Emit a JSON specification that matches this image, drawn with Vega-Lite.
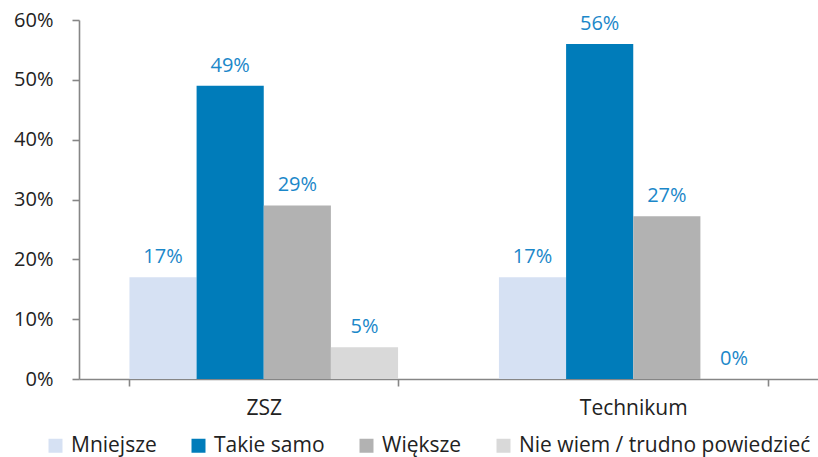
{
  "$schema": "https://vega.github.io/schema/vega-lite/v6.json",
  "autosize": {"type": "none"},
  "padding": {"left": 79, "top": 20, "right": 0, "bottom": 78},
  "width": 739,
  "height": 359,
  "config": {
    "view": {"stroke": null},
    "font": "Open Sans",
    "axis": {"labelFont": "Open Sans", "labelColor": "#222222", "domainColor": "#868686", "tickColor": "#868686", "domainWidth": 1.6, "tickWidth": 1.6, "grid": false, "title": null}
  },
  "data": {
    "values": [
      {"grupa": "ZSZ", "odp": "Mniejsze", "ord": 1, "val": 0.17},
      {"grupa": "ZSZ", "odp": "Takie samo", "ord": 2, "val": 0.49},
      {"grupa": "ZSZ", "odp": "Większe", "ord": 3, "val": 0.29},
      {"grupa": "ZSZ", "odp": "Nie wiem / trudno powiedzieć", "ord": 4, "val": 0.053},
      {"grupa": "Technikum", "odp": "Mniejsze", "ord": 1, "val": 0.17},
      {"grupa": "Technikum", "odp": "Takie samo", "ord": 2, "val": 0.56},
      {"grupa": "Technikum", "odp": "Większe", "ord": 3, "val": 0.272},
      {"grupa": "Technikum", "odp": "Nie wiem / trudno powiedzieć", "ord": 4, "val": 0}
    ]
  },
  "encoding": {
    "x": {
      "field": "grupa", "type": "nominal", "sort": ["ZSZ", "Technikum"],
      "scale": {"paddingInner": 0.273, "paddingOuter": 0.1365},
      "axis": {"labelAngle": 0, "labelFontSize": 21, "tickBand": "extent", "tickSize": 7, "labelPadding": 11}
    },
    "xOffset": {
      "field": "odp", "type": "nominal",
      "sort": ["Mniejsze", "Takie samo", "Większe", "Nie wiem / trudno powiedzieć"],
      "scale": {"paddingInner": 0, "paddingOuter": 0}
    },
    "y": {
      "field": "val", "type": "quantitative",
      "scale": {"domain": [0, 0.6], "nice": false},
      "axis": {"format": ".0%", "values": [0, 0.1, 0.2, 0.3, 0.4, 0.5, 0.6], "labelFontSize": 20, "tickSize": 7, "labelPadding": 19}
    }
  },
  "layer": [
    {
      "mark": {"type": "bar"},
      "encoding": {
        "color": {
          "field": "odp", "type": "nominal",
          "sort": ["Mniejsze", "Takie samo", "Większe", "Nie wiem / trudno powiedzieć"],
          "scale": {
            "domain": ["Mniejsze", "Takie samo", "Większe", "Nie wiem / trudno powiedzieć"],
            "range": ["#d6e1f3", "#007cba", "#b2b2b2", "#d9d9d9"]
          },
          "legend": {
            "title": null, "orient": "none", "direction": "horizontal",
            "legendX": -34, "legendY": 415, "padding": 0,
            "symbolType": "square", "symbolSize": 196, "symbolStrokeWidth": 0,
            "labelFontSize": 21, "labelColor": "#222222", "labelOffset": 5,
            "columnPadding": 31, "labelLimit": 400
          }
        }
      }
    },
    {
      "mark": {"type": "text", "baseline": "alphabetic", "dy": -14, "fontSize": 20, "color": "#1b87c9"},
      "encoding": {
        "text": {"field": "val", "type": "quantitative", "format": ".0%"}
      }
    }
  ]
}
